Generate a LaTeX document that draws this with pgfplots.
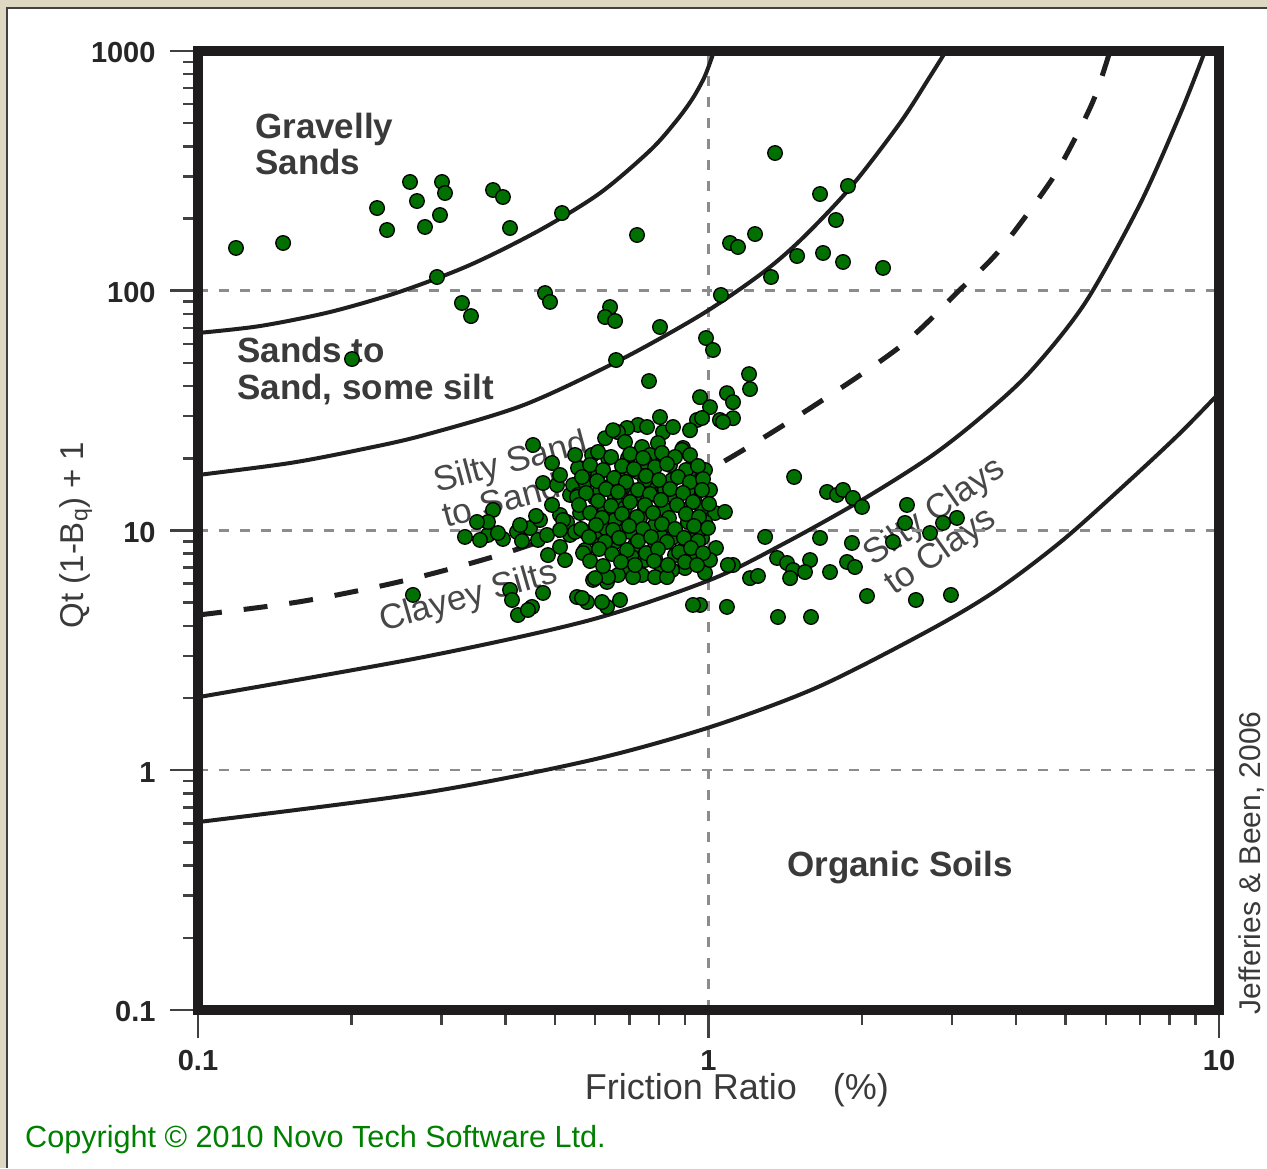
\documentclass[border=0pt]{standalone}
\usepackage{fontspec}
\setmainfont{Liberation Sans}
\usepackage{pgfplots}
\pgfplotsset{compat=1.18}
\definecolor{ptgreen}{RGB}{0,112,0}
\definecolor{beige}{RGB}{222,216,195}
\definecolor{txtgray}{RGB}{58,58,58}
\definecolor{rotgray}{RGB}{72,72,72}
\definecolor{cpgreen}{RGB}{0,128,0}
\definecolor{framec}{RGB}{30,28,28}

\begin{document}
\begin{tikzpicture}
\useasboundingbox (0,0) rectangle (1267pt,1168pt);
\fill[white] (0,0) rectangle (1267pt,1168pt);
\fill[beige] (0,0) rectangle (6pt,1168pt);
\fill[beige] (0,1161pt) rectangle (1267pt,1168pt);
\draw[line width=1.6pt, black!75] (6.8pt,0) -- (6.8pt,1160.2pt) -- (1267pt,1160.2pt);

% region labels (drawn under the plot content)
\begin{scope}[every node/.style={inner sep=0pt}]
\node[anchor=base west, text=txtgray, font=\bfseries\fontsize{35}{35}\selectfont] at (255pt,1029pt) {Gravelly};
\node[anchor=base west, text=txtgray, font=\bfseries\fontsize{35}{35}\selectfont] at (255pt,993pt) {Sands};
\node[anchor=base west, text=txtgray, font=\bfseries\fontsize{35}{35}\selectfont] at (237pt,805pt) {Sands to};
\node[anchor=base west, text=txtgray, font=\bfseries\fontsize{35}{35}\selectfont] at (237pt,768pt) {Sand, some silt};
\node[anchor=base west, text=txtgray, font=\bfseries\fontsize{35}{35}\selectfont] at (787pt,291pt) {Organic Soils};
\node[anchor=base west, rotate=15, text=rotgray, font=\fontsize{35}{35}\selectfont] at (437pt,675pt) {Silty Sand};
\node[anchor=base west, rotate=15, text=rotgray, font=\fontsize{35}{35}\selectfont] at (446pt,640pt) {to Sand};
\node[anchor=base west, rotate=16, text=rotgray, font=\fontsize{35}{35}\selectfont] at (383pt,536pt) {Clayey Silts};
\node[anchor=base west, rotate=35, text=rotgray, font=\fontsize{35}{35}\selectfont] at (873pt,601pt) {Silty Clays};
\node[anchor=base west, rotate=35, text=rotgray, font=\fontsize{35}{35}\selectfont] at (894pt,572pt) {to Clays};
\end{scope}

\begin{axis}[
  at={(198pt,158pt)}, anchor=south west,
  scale only axis, width=1021pt, height=959pt,
  xmode=log, ymode=log,
  xmin=0.1, xmax=10, ymin=0.1, ymax=1000,
  axis line style={line width=9.5pt, color=framec},
  xtick={0.1,1,10}, xticklabels={0.1,1,10},
  ytick={0.1,1,10,100,1000}, yticklabels={0.1,1,10,100,1000},
  minor xtick={0.2,0.3,0.4,0.5,0.6,0.7,0.8,0.9,2,3,4,5,6,7,8,9},
  minor ytick={0.2,0.3,0.4,0.5,0.6,0.7,0.8,0.9,2,3,4,5,6,7,8,9,20,30,40,50,60,70,80,90,200,300,400,500,600,700,800,900},
  xtick pos=left, ytick pos=left,
  tick align=outside,
  major tick length=28pt, minor tick length=15pt,
  tick style={line width=2.5pt, color=black!75},
  xmajorgrids, ymajorgrids,
  major grid style={dash pattern=on 10pt off 11pt, line width=2.5pt, color=black!45},
  /pgf/number format/assume math mode=true,
  tick label style={font=\bfseries\fontsize{29}{29}\selectfont, text=black!85},
  yticklabel style={xshift=-11pt, yshift=-2pt},
  xticklabel style={yshift=-9pt},
]
% boundary curves
\addplot[smooth, line width=4pt, color=black!88] coordinates {
(0.1,66.65) (0.1323,71.27) (0.1814,81.52) (0.2487,99.07) (0.3411,128.1) (0.4677,179.2) (0.6132,255.6) (0.7683,384.5) (0.8599,503.2) (0.9283,627.6) (0.980,771.6) (1.0113,917.6) (1.0251,1000)
};
\addplot[smooth, line width=4pt, color=black!88] coordinates {
(0.1,17.04) (0.1515,19.12) (0.2077,21.73) (0.2759,24.92) (0.4332,33.29) (0.665,50.9) (0.9625,78.9) (1.262,116.7) (1.511,161.9) (1.893,268.0) (2.372,500.8) (2.716,782.8) (2.919,1000)
};
\addplot[smooth, line width=5pt, color=black!88, dash pattern=on 24pt off 22pt] coordinates {
(0.1,4.44) (0.1584,5.047) (0.2487,6.119) (0.3905,7.925) (0.6132,11.09) (0.9625,17.09) (1.511,30.40) (2.372,58.42) (3.109,100.99) (3.724,148.3) (4.667,283.6) (5.223,431.4) (5.716,645.9) (6.117,1000)
};
\addplot[smooth, line width=4pt, color=black!88] coordinates {
(0.1,2.017) (0.2759,2.964) (0.5862,4.23) (1.0068,6.22) (1.4125,8.87) (1.999,13.41) (2.716,20.26) (3.403,29.45) (4.264,45.81) (5.465,88.9) (7.004,230.0) (8.426,556.6) (9.389,1000)
};
\addplot[smooth, line width=4pt, color=black!88] coordinates {
(0.1,0.608) (0.2759,0.804) (0.5862,1.10) (1.0068,1.513) (1.639,2.225) (2.716,3.85) (3.674,5.65) (4.948,9.13) (6.695,16.24) (8.388,25.46) (10,37.4)
};
% measured points
\addplot[only marks, mark=*, mark size=7.3pt, mark options={fill=ptgreen, draw=black, line width=1.3pt}] coordinates {
(0.1187,150.8) (0.1468,158.2) (0.2243,221.3) (0.2346,179.2) (0.2602,284.2) (0.2685,236.7) (0.2784,184.5) (0.2979,206.9) (0.3006,284.2) (0.3047,255.6) (0.3784,263.1) (0.3958,246.0) (0.4085,182.7) (0.5165,210.9) (0.7245,170.8) (0.2939,114.1) (0.3289,88.9) (0.3426,78.4) (0.4784,97.8) (0.4893,89.8) (0.6415,85.5) (0.6272,77.7) (0.6561,74.8) (0.8035,70.6) (0.2003,51.9) (0.6591,51.4) (0.7647,42.0) (0.9889,63.5) (1.0205,56.6) (0.9625,36.0) (0.9494,28.9) (0.8915,22.09) (0.9844,17.88)
(1.350,375.4) (1.654,253.2) (1.876,273.5) (1.777,197.3) (1.2335,172.4) (1.102,158.2) (1.1423,152.2) (1.4912,139.6) (1.6765,143.7) (1.8346,131.8) (2.1975,124.5) (1.326,114.1) (1.0577,96.0) (1.2006,44.9) (1.206,38.9) (1.0867,37.4) (1.0068,32.7) (1.117,34.3) (1.053,28.9) (1.117,29.4)
(1.4713,16.72) (1.707,14.48) (1.785,14.07) (1.8346,14.76) (1.9187,13.67) (1.9988,12.54) (2.448,12.78) (2.426,10.75) (2.716,9.76) (2.880,10.75) (3.067,11.28) (2.298,8.96) (1.2908,9.40) (1.654,9.31) (1.910,8.87) (1.0344,8.45) (1.117,7.18) (1.3624,7.68) (1.425,7.32) (1.4647,6.84) (1.581,7.53) (1.5454,6.71) (1.445,6.33) (1.206,6.33) (1.250,6.46) (1.73,6.71) (1.868,7.39) (1.936,7.04) (0.9844,6.65) (2.044,5.33) (2.549,5.13) (2.985,5.385) (1.0867,4.80) (1.368,4.357) (1.588,4.357) (0.9625,4.89)
(0.2637,5.385) (0.4085,5.65) (0.4122,5.13) (0.4234,4.44) (0.4511,4.80) (0.4741,5.49) (0.5527,5.28) (0.5782,5.03) (0.6328,4.80) (0.671,5.13) (0.9325,4.89) (0.3334,9.40) (0.3699,9.58) (0.3958,9.22) (0.5942,6.22) (0.6328,6.10) (0.443,4.66)
(0.4532,22.73) (0.4937,19.12) (0.4741,15.78) (0.5603,18.22) (0.3784,12.18) (0.3699,10.85) (0.352,10.85) (0.4216,9.86) (0.4471,10.24) (0.4635,9.13) (0.4827,9.58) (0.5119,8.54) (0.5356,9.58) (0.5283,10.85) (0.5119,11.61) (0.5356,14.07) (0.5429,15.48) (0.505,15.48)
(0.7277,27.55) (0.8035,29.73) (0.8144,25.7) (0.7579,27.02) (0.6925,26.76) (0.665,25.7) (0.6272,24.26) (0.6863,23.4) (0.741,22.3) (0.7964,23.17) (0.8521,27.02) (0.92,26.2) (0.8874,21.67) (0.9712,29.45) (1.0673,28.35)
(0.6356,20.07) (0.5808,18.22) (0.5552,18.22) (0.6956,20.07) (0.7752,18.76) (0.8107,20.26) (0.7277,17.54) (0.665,16.72) (0.6077,17.04) (0.5731,15.93) (0.6356,15.18) (0.6956,15.18) (0.7752,15.93) (0.8483,16.24) (0.9117,14.76) (0.5552,14.07) (0.5996,13.67) (0.6561,13.67) (0.718,14.07) (0.7858,14.07) (0.8599,13.67) (0.941,13.15)
(0.5653,11.95) (0.6272,12.18) (0.6863,12.42) (0.7511,12.42) (0.8218,12.18) (0.8995,12.18) (0.9712,12.42) (1.0298,11.83) (1.077,11.95)
(0.5731,9.86) (0.6272,10.24) (0.6863,10.54) (0.7613,10.05) (0.8329,10.34) (0.9117,10.85) (0.9844,10.85) (0.9712,9.31) (0.9117,8.45) (0.8483,9.31) (0.7858,8.54) (0.718,8.70) (0.6561,8.96) (0.5996,9.31) (0.5478,9.86)
(0.7083,7.75) (0.7858,7.68) (0.8599,7.90) (0.8107,6.97) (0.8995,6.97) (0.741,6.52) (0.6956,6.97) (0.665,6.52) (0.6356,6.39) (0.5996,6.33) (0.7858,6.39) (0.8483,6.84) (1.0915,7.18) (0.5653,5.23) (0.6187,5.03)
(0.5189,11.06) (0.5603,11.83) (0.5527,13.80) (0.6502,26.2) (0.8292,6.39) (0.7115,6.39)
(0.4848,7.90) (0.5236,7.53) (0.5731,8.29) (0.6132,8.70) (0.702,9.86) (0.8035,9.58) (0.92,9.13) (1.0068,7.53) (0.6132,14.76) (0.7511,16.24) (0.8407,18.76) (0.92,17.88) (0.702,17.88) (0.7683,20.65) (0.5915,20.65) (0.5119,10.05) (0.4677,11.06) (0.4274,10.54) (0.6561,11.06) (0.7344,11.28) (0.7858,10.54) (0.9625,10.05) (0.671,14.76) (0.8218,14.76) (0.7511,19.31) (1.0068,14.76) (0.5478,20.65) (0.5119,17.04) (0.92,7.90) (0.7511,7.53)
(0.6077,21.26) (0.6444,20.26) (0.702,20.85) (0.7444,20.07) (0.8107,21.06) (0.8599,20.26) (0.92,20.65)
(0.5862,18.76) (0.6215,17.88) (0.6770,18.58) (0.7148,18.05) (0.7858,18.40) (0.8292,18.94) (0.9036,17.88) (0.9537,18.58)
(0.5653,16.72) (0.6050,16.08) (0.6532,16.56) (0.6894,15.93) (0.7545,16.88) (0.8000,16.24) (0.8715,16.72) (0.92,15.93) (0.9756,16.40)
(0.5757,14.34) (0.6300,14.90) (0.6650,14.48) (0.7277,14.76) (0.7683,14.20) (0.8407,14.90) (0.8915,14.34) (0.9712,14.76)
(0.5577,12.78) (0.6077,13.28) (0.6444,12.66) (0.702,13.15) (0.7511,12.78) (0.8071,13.41) (0.8676,12.78) (0.9325,13.15) (1.0023,12.90)
(0.5862,11.83) (0.6187,11.28) (0.6770,11.72) (0.7245,11.39) (0.7787,11.83) (0.8367,11.28) (0.9036,11.72) (0.9580,11.39)
(0.5628,10.15) (0.6023,10.54) (0.6502,10.05) (0.6987,10.44) (0.7444,10.15) (0.8107,10.64) (0.8599,10.15) (0.9367,10.44) (0.9977,10.24)
(0.5834,9.40) (0.6272,8.96) (0.6680,9.31) (0.7277,9.04) (0.7718,9.40) (0.8292,8.96) (0.8955,9.31) (0.9537,9.04)
(0.5679,8.05) (0.6104,8.37) (0.6473,7.98) (0.6925,8.29) (0.7545,8.05) (0.7964,8.37) (0.8754,8.13) (0.9241,8.45) (0.9756,8.05)
(0.5862,7.46) (0.6215,7.11) (0.6740,7.39) (0.7180,7.18) (0.7823,7.46) (0.8329,7.18) (0.8995,7.39) (0.9494,7.18)
(0.4937,12.78) (0.4594,11.50) (0.4312,9.04) (0.3870,9.76) (0.3568,9.13)
};
\end{axis}

% axis titles and notes
\node[rotate=90, inner sep=0pt, text=txtgray, font=\fontsize{33}{33}\selectfont] at (76pt,633pt) {Qt (1-B\textsubscript{q}) + 1};
\node[inner sep=0pt, text=txtgray, font=\fontsize{36}{36}\selectfont] at (737pt,78pt) {Friction Ratio\hspace{36pt}(\%)};
\node[rotate=90, inner sep=0pt, text=txtgray, font=\fontsize{30}{30}\selectfont] at (1252pt,305pt) {Jefferies \& Been, 2006};
\node[anchor=base west, inner sep=0pt, text=cpgreen, font=\fontsize{30.6}{30.6}\selectfont] at (25pt,20pt) {Copyright © 2010 Novo Tech Software Ltd.};
\end{tikzpicture}
\end{document}
